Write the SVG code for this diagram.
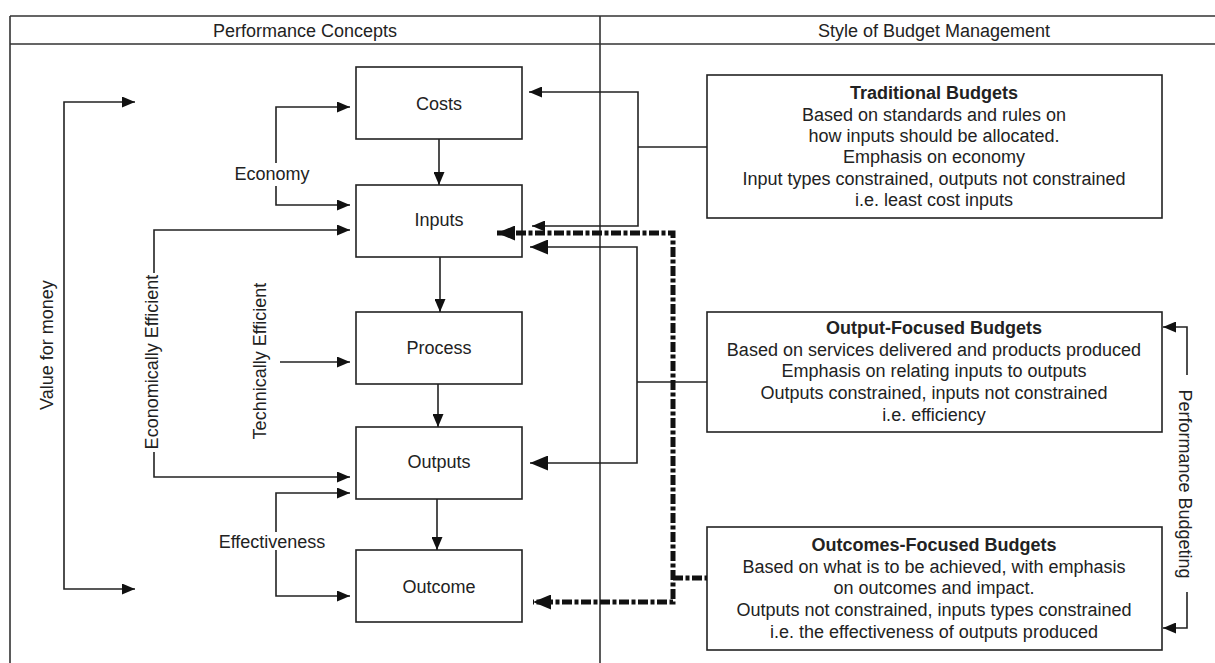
<svg xmlns="http://www.w3.org/2000/svg" width="1215" height="663" viewBox="0 0 1215 663">
<style>
text{font-family:"Liberation Sans",Arial,sans-serif;font-size:18px;fill:#222;text-anchor:middle}
.b{font-weight:bold}
.frame{stroke:#333;stroke-width:1.6;fill:none}
.box{fill:#fff;stroke:#222;stroke-width:1.6}
.c{fill:none;stroke:#222;stroke-width:1.6}
.d{fill:none;stroke:#111;stroke-width:5;stroke-dasharray:10 2.5 4 2.5}
</style>
<defs>
<marker id="s" markerUnits="userSpaceOnUse" markerWidth="13" markerHeight="11" refX="13" refY="5.5" orient="auto-start-reverse"><path d="M0,0 L13,5.5 L0,11 z" fill="#111"/></marker>
<marker id="l" markerUnits="userSpaceOnUse" markerWidth="18" markerHeight="15" refX="18" refY="7.5" orient="auto-start-reverse"><path d="M0,0 L18,7.5 L0,15 z" fill="#111"/></marker>
</defs>
<g id="frame">
<path class="frame" d="M10,16 H1215 M10,44 H1215 M10,16 V663 M600,16 V663"/>
<text x="305" y="37">Performance Concepts</text>
<text x="934" y="37">Style of Budget Management</text>
</g>
<g id="costs"><rect class="box" x="356" y="67" width="166" height="72"/><text x="439" y="110">Costs</text></g>
<g id="inputs"><rect class="box" x="356" y="185" width="166" height="72"/><text x="439" y="226">Inputs</text></g>
<g id="process"><rect class="box" x="356" y="312" width="166" height="72"/><text x="439" y="354">Process</text></g>
<g id="outputs"><rect class="box" x="356" y="427" width="166" height="72"/><text x="439" y="468">Outputs</text></g>
<g id="outcome"><rect class="box" x="356" y="550" width="166" height="72"/><text x="439" y="593">Outcome</text></g>
<g id="traditional"><rect class="box" x="707" y="75" width="455" height="143"/>
<text x="934" y="99" class="b">Traditional Budgets</text>
<text x="934" y="121">Based on standards and rules on</text>
<text x="934" y="142">how inputs should be allocated.</text>
<text x="934" y="163">Emphasis on economy</text>
<text x="934" y="185">Input types constrained, outputs not constrained</text>
<text x="934" y="206">i.e. least cost inputs</text>
</g>
<g id="output-focused"><rect class="box" x="707" y="312" width="455" height="120"/>
<text x="934" y="334" class="b">Output-Focused Budgets</text>
<text x="934" y="356">Based on services delivered and products produced</text>
<text x="934" y="377">Emphasis on relating inputs to outputs</text>
<text x="934" y="399">Outputs constrained, inputs not constrained</text>
<text x="934" y="421">i.e. efficiency</text>
</g>
<g id="outcomes-focused"><rect class="box" x="707" y="527" width="455" height="123"/>
<text x="934" y="551" class="b">Outcomes-Focused Budgets</text>
<text x="934" y="573">Based on what is to be achieved, with emphasis</text>
<text x="934" y="594">on outcomes and impact.</text>
<text x="934" y="616">Outputs not constrained, inputs types constrained</text>
<text x="934" y="638">i.e. the effectiveness of outputs produced</text>
</g>
<g id="labels">
<text transform="translate(53,345) rotate(-90)">Value for money</text>
<text transform="translate(158,362) rotate(-90)">Economically Efficient</text>
<text transform="translate(266,361) rotate(-90)">Technically Efficient</text>
<text x="272" y="180">Economy</text>
<text x="272" y="548">Effectiveness</text>
<text transform="translate(1179,484) rotate(90)">Performance Budgeting</text>
</g>
<g id="connectors">
<path class="c" marker-end="url(#s)" d="M439,139 V185"/>
<path class="c" marker-end="url(#s)" d="M440,257 V312"/>
<path class="c" marker-end="url(#s)" d="M438,384 V427"/>
<path class="c" marker-end="url(#s)" d="M437,499 V550"/>
<path class="c" marker-start="url(#s)" marker-end="url(#s)" d="M135,102 H64 V589 H135"/>
<path class="c" marker-end="url(#s)" d="M276,163 V107 H350"/>
<path class="c" marker-end="url(#s)" d="M276,186 V205 H350"/>
<path class="c" marker-end="url(#s)" d="M154,273 V230 H350"/>
<path class="c" marker-end="url(#s)" d="M154,452 V477 H350"/>
<path class="c" marker-end="url(#s)" d="M280,362 H350"/>
<path class="c" marker-end="url(#s)" d="M276,532 V493 H350"/>
<path class="c" marker-end="url(#s)" d="M276,550 V596 H350"/>
<path class="c" d="M707,147 H638"/>
<path class="c" marker-start="url(#s)" marker-end="url(#s)" d="M529,92 H638 V226 H532"/>
<path class="c" d="M707,382 H637"/>
<path class="c" marker-start="url(#l)" marker-end="url(#l)" d="M530,247 H637 V463 H530"/>
<path class="d" marker-start="url(#l)" marker-end="url(#l)" d="M497,233 H673 V602 H533"/>
<path class="d" d="M673,578 H707"/>
<path class="c" marker-start="url(#s)" d="M1163,327 H1187 V375"/>
<path class="c" marker-end="url(#s)" d="M1187,592 V628 H1163"/>
</g>
</svg>
